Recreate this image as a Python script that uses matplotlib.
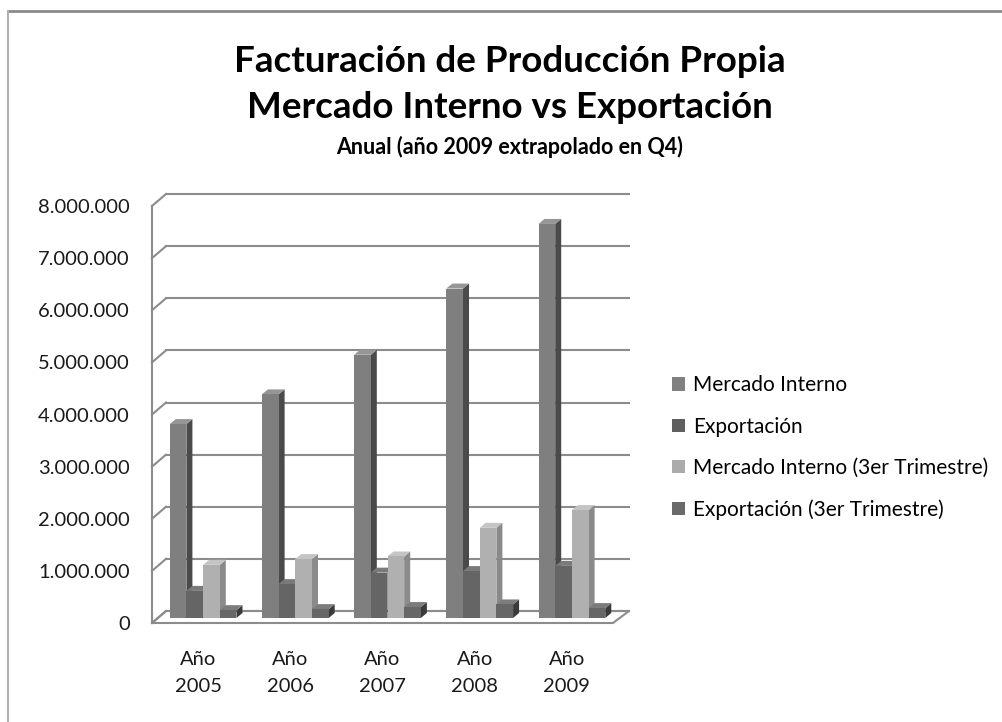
import numpy as np
import matplotlib.pyplot as plt
from matplotlib.patches import Polygon, Patch
from matplotlib.lines import Line2D

plt.rcParams['font.family'] = ['Lato', 'DejaVu Sans']

# ── data ─────────────────────────────────────────────
years = ['Año\n2005', 'Año\n2006', 'Año\n2007', 'Año\n2008', 'Año\n2009']
mercado_interno = [3720000, 4290000, 5050000, 6320000, 7560000]
exportacion = [520000, 650000, 870000, 900000, 1000000]
mercado_interno_q3 = [1020000, 1130000, 1180000, 1730000, 2070000]
exportacion_q3 = [150000, 170000, 210000, 260000, 190000]
series_names = ['Mercado Interno', 'Exportación',
                'Mercado Interno (3er Trimestre)', 'Exportación (3er Trimestre)']
yticks = np.arange(0, 8000001, 1000000)

# face colours: front, side, top
SHADES = [
    ('#7f7f7f', '#4a4a4a', '#969696'),
    ('#656565', '#3c3c3c', '#7a7a7a'),
    ('#b0b0b0', '#8a8a8a', '#c4c4c4'),
    ('#676767', '#3a3a3a', '#7c7c7c'),
]
LEGEND_COLORS = ['#808080', '#5f5f5f', '#ababab', '#6a6a6a']
GRID = '#8c8c8c'

W, H = 1003, 722
fig = plt.figure(figsize=(W / 100, H / 100), dpi=100)
fig.patch.set_facecolor('white')

# front plane of the 3D box, in pixels
left, right, top, bottom = 152, 613, 206, 623
ax = fig.add_axes([left / W, 1 - bottom / H, (right - left) / W, (bottom - top) / H])
ax.set_xlim(-0.5, 4.5)
ax.set_ylim(0, 8000000)
ax.set_facecolor('none')
for s in ax.spines.values():
    s.set_visible(False)

ppx = (right - left) / 5.0          # pixels per category
ppy = (bottom - top) / 8000000.0    # pixels per unit


def off(px, py):
    return px / ppx, py / ppy


# walls: back wall shifted by (14, 12) px
wdx, wdy = off(14, 12)
extra = off(2, 0)[0]
floor = Polygon([(-0.5, 0), (4.5, 0), (4.5 + wdx + extra, wdy), (-0.5 + wdx, wdy)],
                closed=True, facecolor='white', edgecolor=GRID, lw=1.5,
                clip_on=False, zorder=1)
ax.add_patch(floor)
for yv in yticks:
    ax.add_line(Line2D([-0.5 + wdx, 4.5 + wdx + extra], [yv + wdy, yv + wdy],
                       color=GRID, lw=1.5, clip_on=False, zorder=1))
    ax.add_line(Line2D([-0.5, -0.5 + wdx], [yv, yv + wdy],
                       color=GRID, lw=1.5, clip_on=False, zorder=1))
ax.add_line(Line2D([-0.5, -0.5], [0, 8000000], color=GRID, lw=1.5,
                   clip_on=False, zorder=1))

# bars: front face at (5, 5) px, depth (6, 5) px
fdx, fdy = off(5, 5)
ddx, ddy = off(6, 5)
width = 0.181
series = [mercado_interno, exportacion, mercado_interno_q3, exportacion_q3]
x = np.arange(len(years))
z = 2
for i in range(len(years)):
    for k, vals in enumerate(series):
        front, side, topc = SHADES[k]
        x0 = x[i] + (k - 2) * width + fdx
        x1 = x0 + width
        y0 = fdy
        y1 = vals[i] + fdy
        ax.bar(x0, vals[i], width=width, bottom=y0, align='edge',
               color=front, lw=0, zorder=z + 1, clip_on=False)
        ax.add_patch(Polygon([(x1, y0), (x1 + ddx, y0 + ddy), (x1 + ddx, y1 + ddy), (x1, y1)],
                             closed=True, facecolor=side, lw=0, zorder=z, clip_on=False))
        ax.add_patch(Polygon([(x0, y1), (x1, y1), (x1 + ddx, y1 + ddy), (x0 + ddx, y1 + ddy)],
                             closed=True, facecolor=topc, lw=0, zorder=z, clip_on=False))
        z += 2

ax.set_yticks(yticks)
ax.set_yticklabels([f'{v:,.0f}'.replace(',', '.') for v in yticks], fontsize=14.5,
                   color='#1a1a1a')
ax.set_xticks(x)
ax.set_xticklabels(years, fontsize=14.5, color='#1a1a1a', linespacing=1.75)
ax.tick_params(axis='y', length=0, pad=16)
ax.tick_params(axis='x', length=0, pad=20)

# titles
fig.text(510 / W, 1 - 62 / H, 'Facturación de Producción Propia', ha='center',
         va='center', fontsize=26.5, fontweight='bold', color='black')
fig.text(510 / W, 1 - 107 / H, 'Mercado Interno vs Exportación', ha='center',
         va='center', fontsize=26.5, fontweight='bold', color='black')
fig.text(510 / W, 1 - 147 / H, 'Anual (año 2009 extrapolado en Q4)', ha='center',
         va='center', fontsize=15.5, fontweight='bold', color='black')

# legend
handles = [Patch(facecolor=c, edgecolor='none') for c in LEGEND_COLORS]
fig.legend(handles, series_names, loc='upper left', bbox_to_anchor=(664 / W, 1 - 367 / H),
           frameon=False, fontsize=15, handlelength=0.6, handleheight=0.6,
           handletextpad=0.4, labelspacing=1.02, borderaxespad=0)

# chart border
fig.add_artist(Line2D([8 / W, 1], [1 - 11 / H, 1 - 11 / H], color='#8a8a8a', lw=2))
fig.add_artist(Line2D([8 / W, 8 / W], [0, 1 - 11 / H], color='#b0b0b0', lw=1.5))

plt.savefig('out.png', dpi=100, facecolor='white')
